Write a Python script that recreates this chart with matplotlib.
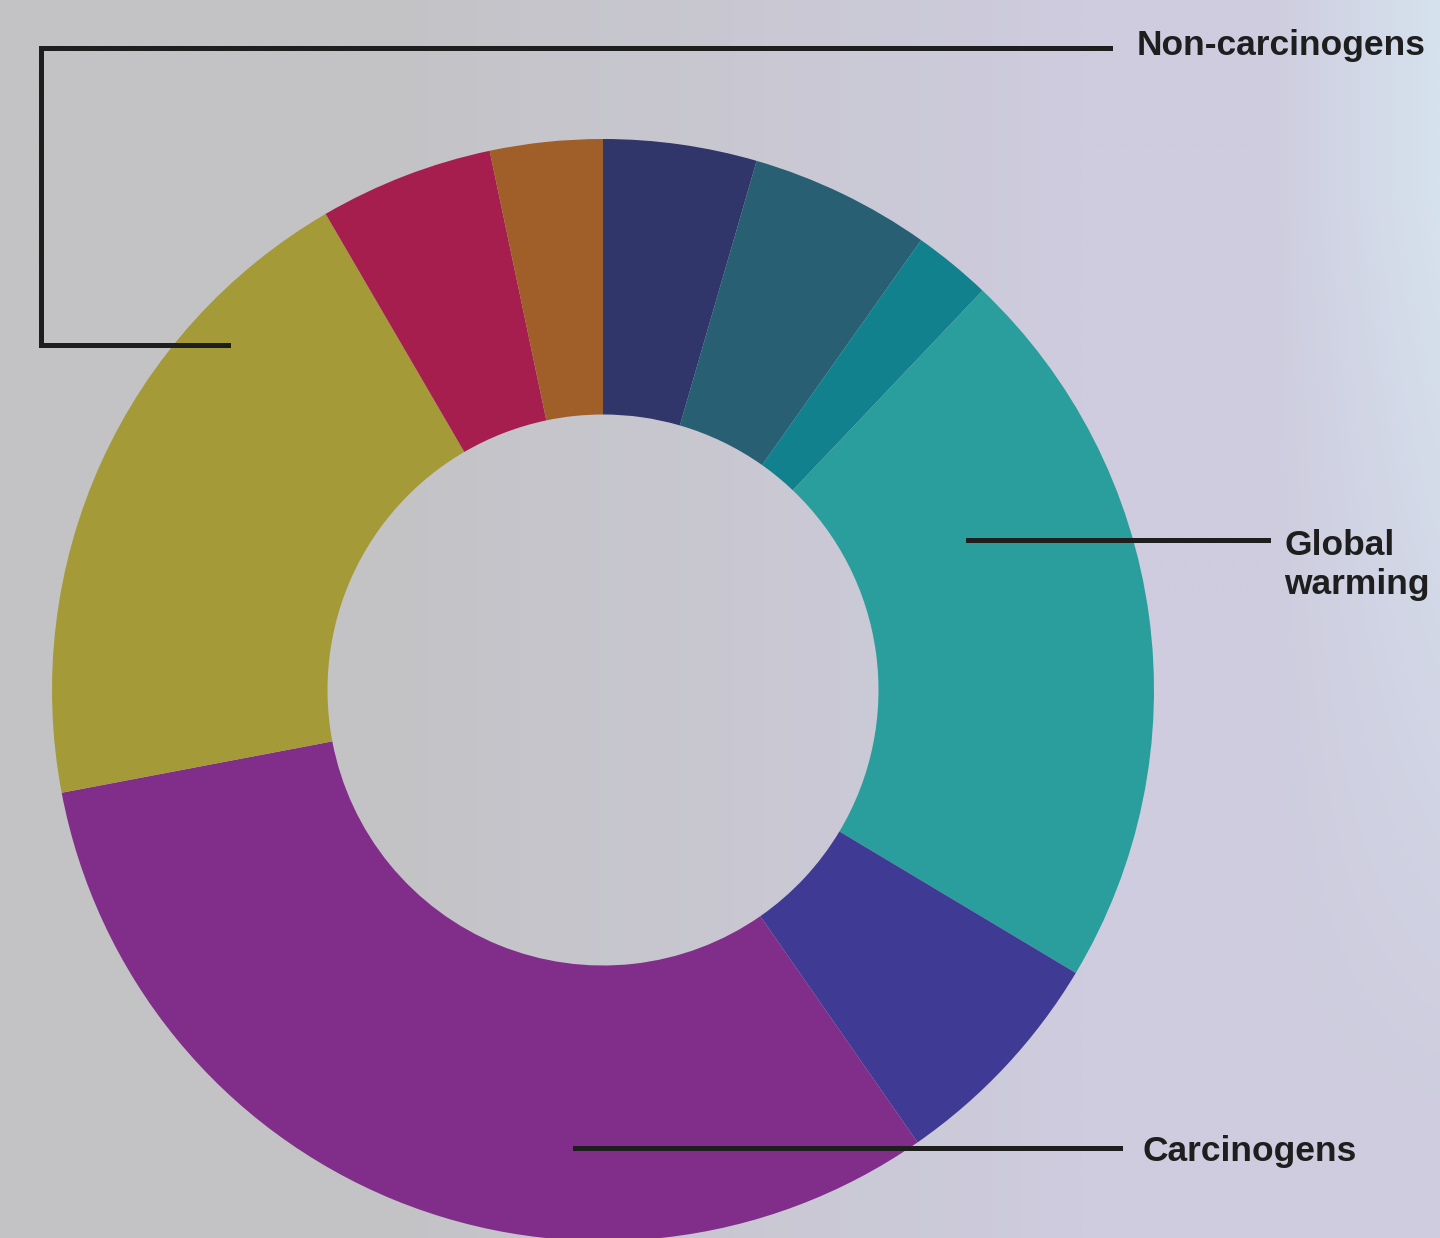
import numpy as np
import matplotlib.pyplot as plt

# slice values (share of the ring, clockwise from 12 o'clock)
valores = [4.5, 5.3, 2.3, 21.5, 6.75, 31.7, 19.6, 5.1, 3.3]
cores = ["#30356a", "#285f72", "#11818d", "#2a9e9c", "#3f3a94",
         "#812e8b", "#a59a38", "#a51e4e", "#a05f28"]

rotulos = ["Non-carcinogens", "Global\nwarming", "Carcinogens"]

W, H = 1440, 1238
fig = plt.figure(figsize=(W / 100, H / 100), dpi=100)

# fundo: cinza com um tom lilas para a direita
fundo = fig.add_axes([0, 0, 1, 1])
xs = np.linspace(0, 1, 300)
ys = np.linspace(0, 1, 260)
X, Y = np.meshgrid(xs, ys)
cinza = np.array([195, 195, 197]) / 255
lilas = np.array([206, 204, 222]) / 255
azul = np.array([214, 226, 238]) / 255
t = np.clip((X - 0.25) / 0.5, 0, 1)[..., None]
img = cinza * (1 - t) + lilas * t
t2 = np.clip((X - 0.88) / 0.12, 0, 1)[..., None] * np.clip(1.2 - Y * 1.3, 0, 1)[..., None]
img = img * (1 - t2) + azul * t2
fundo.imshow(img, extent=[0, W, H, 0], aspect="auto", interpolation="bilinear")
fundo.set_xlim(0, W)
fundo.set_ylim(H, 0)
fundo.axis("off")

# rosca
cx, cy, r = 603, 690, 551
ax = fig.add_axes([(cx - r) / W, (H - cy - r) / H, 2 * r / W, 2 * r / H])
ax.pie(valores, colors=cores, startangle=90, counterclock=False, radius=1,
       wedgeprops=dict(width=0.5, edgecolor="none"))
ax.set_xlim(-1, 1)
ax.set_ylim(-1, 1)
ax.axis("off")
ax.patch.set_alpha(0)

# linhas e textos
top = fig.add_axes([0, 0, 1, 1])
top.set_xlim(0, W)
top.set_ylim(H, 0)
top.axis("off")
top.patch.set_alpha(0)
cor_linha = "#1e1e1e"
top.plot([1110, 41, 41, 228], [48, 48, 345, 345], color=cor_linha, lw=3.6,
         solid_joinstyle="miter")
top.plot([968, 1268], [540, 540], color=cor_linha, lw=3.6)
top.plot([575, 1120], [1148, 1148], color=cor_linha, lw=3.6)

fonte = dict(family="Liberation Sans", weight="bold", size=25.5, color=cor_linha)
top.text(1137, 45, rotulos[0], ha="left", va="center", **fonte)
top.text(1284, 565, rotulos[1], ha="left", va="center", linespacing=1.2, **fonte)
top.text(1143, 1151, rotulos[2], ha="left", va="center", **fonte)

fig.savefig("out.png", dpi=100)
